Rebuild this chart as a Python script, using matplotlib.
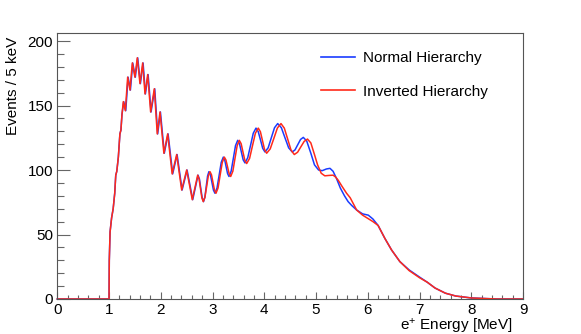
import matplotlib
matplotlib.use("Agg")
import matplotlib.pyplot as plt
from matplotlib.ticker import MultipleLocator

plt.rcParams["font.family"] = ["Liberation Sans", "DejaVu Sans"]
plt.rcParams["mathtext.fontset"] = "custom"
plt.rcParams["mathtext.rm"] = "Liberation Sans"
plt.rcParams["mathtext.it"] = "Liberation Sans:italic"

# positron energy [MeV] and events / 5 keV
e_normal = [0.0, 1.0, 1.005, 1.02, 1.05, 1.08, 1.11, 1.13, 1.15, 1.18, 1.21, 1.23, 1.25,
            1.284, 1.323, 1.368, 1.413, 1.458, 1.508, 1.554, 1.606, 1.658, 1.703, 1.755, 1.812,
            1.883, 1.94, 1.993, 2.068, 2.141, 2.23, 2.315, 2.412, 2.508, 2.617, 2.72,
            2.747, 2.773, 2.8, 2.826, 2.852, 2.878, 2.904, 2.93, 2.959, 2.989, 3.018, 3.047,
            3.087, 3.128, 3.168, 3.208, 3.236, 3.263, 3.291, 3.318, 3.36, 3.402, 3.444, 3.486,
            3.521, 3.557, 3.592, 3.627, 3.68, 3.734, 3.787, 3.84, 3.883, 3.927, 3.97, 4.013,
            4.075, 4.136, 4.198, 4.259, 4.33, 4.4, 4.471, 4.541, 4.594, 4.648, 4.701, 4.754,
            4.82, 4.9, 4.97, 5.05, 5.12, 5.2, 5.27, 5.33, 5.4, 5.47, 5.55, 5.62, 5.69, 5.785,
            5.9, 6.01, 6.1, 6.2, 6.33, 6.46, 6.62, 6.8, 7.0, 7.15, 7.3, 7.5, 7.7, 8.0, 8.3, 8.5, 9.0]
n_normal = [0, 0, 30, 52, 63, 70, 82, 96, 99, 110, 128, 131, 143,
            153, 146, 172, 162, 183, 172, 187, 167, 183, 159, 174, 145,
            163, 128, 145, 113, 128, 97, 112, 84.5, 100, 77, 96,
            93, 85.7, 78.5, 75.5, 78.9, 87.1, 95.3, 98.7, 96.3, 90.3, 84.4, 82,
            86.1, 96, 105.9, 110, 107.8, 102.5, 97.2, 95, 99.1, 109, 118.9, 123,
            120.4, 114, 107.9, 105.5, 109.5, 119, 128.5, 132.5, 129.8, 123.3, 116.8, 114,
            117.2, 125, 132.8, 136, 132.8, 125, 117.2, 114, 115.6, 119.7, 123.7, 125.3,
            122.5, 113, 104, 100, 99.5, 100.8, 101.3, 99, 93, 86, 80, 75.5, 72.5, 69,
            66, 65, 62, 57, 47, 38, 29, 22.5, 17, 13, 8.5, 4.5, 2.3, 0.8, 0.3, 0, 0]

e_inverted = [0.0, 1.0, 1.005, 1.02, 1.05, 1.08, 1.11, 1.13, 1.15, 1.18, 1.21, 1.23, 1.25,
              1.276, 1.315, 1.36, 1.405, 1.45, 1.50, 1.546, 1.598, 1.65, 1.695, 1.747, 1.804,
              1.875, 1.932, 1.985, 2.06, 2.133, 2.22, 2.307, 2.404, 2.50, 2.609, 2.713,
              2.74, 2.767, 2.794, 2.821, 2.853, 2.886, 2.918, 2.951, 2.98, 3.009, 3.038, 3.067,
              3.107, 3.147, 3.188, 3.228, 3.259, 3.29, 3.32, 3.351, 3.393, 3.434, 3.476, 3.517,
              3.553, 3.588, 3.624, 3.66, 3.716, 3.772, 3.828, 3.884, 3.925, 3.965, 4.006, 4.046,
              4.115, 4.185, 4.254, 4.323, 4.387, 4.452, 4.516, 4.58, 4.644, 4.707, 4.771, 4.835,
              4.9, 4.97, 5.03, 5.1, 5.17, 5.25, 5.33, 5.38, 5.43, 5.5, 5.59, 5.66, 5.785,
              5.9, 6.0, 6.1, 6.2, 6.33, 6.46, 6.62, 6.8, 7.0, 7.15, 7.3, 7.5, 7.7, 8.0, 8.3, 8.5, 9.0]
n_inverted = [0, 0, 30, 52, 63, 70, 82, 96, 99, 110, 128, 131, 143,
              153, 146, 172, 162, 183, 172, 187, 167, 183, 159, 174, 145,
              163, 128, 145, 113, 128, 97, 112, 84.5, 100, 77, 96,
              93, 85.7, 78.5, 75.5, 78.9, 87.1, 95.3, 98.7, 96.3, 90.3, 84.4, 82,
              86.1, 96, 105.9, 110, 107.8, 102.5, 97.2, 95, 99.1, 109, 118.9, 123,
              120.4, 114, 107.6, 105, 109, 118.8, 128.5, 132.5, 129.7, 122.8, 115.8, 113,
              116.4, 124.5, 132.6, 136, 132.5, 124, 115.5, 112, 113.8, 118, 122.2, 124,
              121, 112, 104, 97.5, 95.5, 95.8, 96, 94.5, 92, 87.5, 82, 78.5, 69,
              65, 62.5, 60, 57, 47, 38, 29, 22, 16.5, 13, 8.5, 4.5, 2.3, 0.8, 0.3, 0, 0]

labels = ["Normal Hierarchy", "Inverted Hierarchy"]

fig = plt.figure(figsize=(5.81, 3.34), dpi=100)
ax = fig.add_axes([0.0986, 0.1048, 0.8016, 0.7955])

ax.plot(e_normal, n_normal, color="#1a3cff", lw=1.1, label=labels[0], clip_on=False)
ax.plot(e_inverted, n_inverted, color="#ff2a1a", lw=1.1, label=labels[1], clip_on=False)

ax.set_xlim(0, 9)
ax.set_ylim(0, 206)

ax.xaxis.set_major_locator(MultipleLocator(1))
ax.xaxis.set_minor_locator(MultipleLocator(0.2))
ax.yaxis.set_major_locator(MultipleLocator(50))
ax.yaxis.set_minor_locator(MultipleLocator(10))

for s in ax.spines.values():
    s.set_color("#555555")
    s.set_linewidth(0.8)

ax.tick_params(axis="both", which="both", direction="in", color="#666666",
               width=0.8, labelsize=11, top=False, right=False)
ax.tick_params(axis="x", which="major", length=5, pad=3)
ax.tick_params(axis="x", which="minor", length=3)
ax.tick_params(axis="y", which="major", length=9.5, pad=3)
ax.tick_params(axis="y", which="minor", length=4.8)

# axis titles placed like ROOT: x title flush right, y title flush top
fig.text(513 / 581, 1 - 326 / 334, "e$^{+}$ Energy [MeV]", fontsize=11,
         ha="right", va="center")
fig.text(13 / 581, 1 - 37 / 334, "Events / 5 keV", fontsize=11,
         rotation=90, ha="center", va="top")

leg = ax.legend(loc="upper left", bbox_to_anchor=(0.5525, 0.847),
                bbox_transform=fig.transFigure, frameon=False, fontsize=11,
                handlelength=2.2, handletextpad=0.55, labelspacing=1.27,
                borderpad=0, borderaxespad=0)
for h in leg.get_lines():
    h.set_linewidth(1.2)

fig.savefig("out.png", dpi=100)
